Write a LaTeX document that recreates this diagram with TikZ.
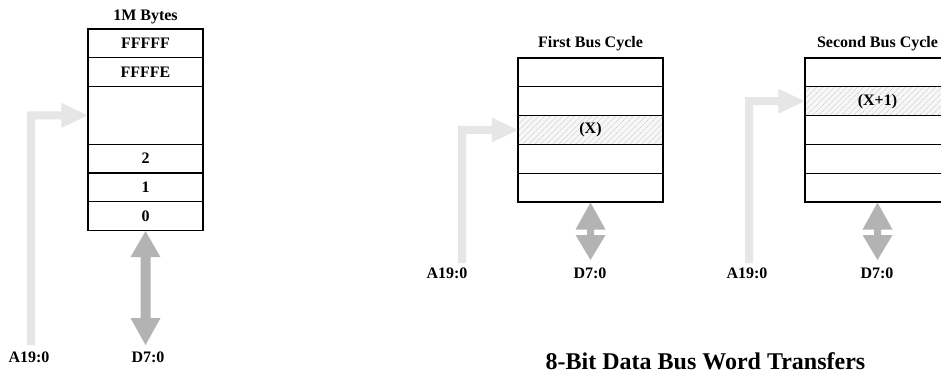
\documentclass[tikz,border=0pt]{standalone}
\usepackage{fontspec}
\setmainfont{Liberation Serif}
\usetikzlibrary{calc,patterns.meta}
\definecolor{addrgray}{HTML}{E6E6E6}
\definecolor{datagray}{HTML}{B3B3B3}
\newcommand\AddrArrow[3]{% #1 tip coordinate, #2 shaft centre x, #3 bottom y
  \fill[addrgray] let \p1=(#1) in
    (#2pt-4pt,-#3pt) -- (#2pt-4pt,\y1+4pt) -- (\x1-26pt,\y1+4pt) -- (\x1-26pt,\y1+12.5pt)
    -- (\p1) -- (\x1-26pt,\y1-12.5pt) -- (\x1-26pt,\y1-4pt) -- (#2pt+4pt,\y1-4pt)
    -- (#2pt+4pt,-#3pt) -- cycle;}
\newcommand\DataArrow[5]{% #1 top tip, #2 bottom tip y, #3 top head, #4 bottom head, #5 shaft half width
  \fill[datagray] let \p1=(#1) in
    (\p1) -- (\x1+15pt,\y1-#3pt) -- (\x1+#5pt,\y1-#3pt) -- (\x1+#5pt,-#2pt+#4pt)
    -- (\x1+15pt,-#2pt+#4pt) -- (\x1,-#2pt) -- (\x1-15pt,-#2pt+#4pt) -- (\x1-#5pt,-#2pt+#4pt)
    -- (\x1-#5pt,\y1-#3pt) -- (\x1-15pt,\y1-#3pt) -- cycle;}
\begin{document}
\begin{tikzpicture}[x=1pt,y=-1pt,
  txt/.style={font=\fontsize{16}{19}\selectfont\bfseries, inner sep=0pt},
  cell/.style={draw, line width=1.1pt, minimum width=#1, minimum height=28.8pt, inner sep=0pt,
    font=\fontsize{16}{19}\selectfont\bfseries},
  tallcell/.style={cell=#1, minimum height=57.6pt},
  hatched/.style={preaction={fill=gray!6}, pattern={Lines[angle=45,distance=4pt,line width=0.5pt]}, pattern color=gray!45},
  bigtitle/.style={font=\fontsize{24}{28}\selectfont\bfseries, inner sep=0pt}]
\useasboundingbox (0,0) rectangle (941,374);
\clip (0,0) rectangle (941,374);
\fill[white] (0,0) rectangle (941,374);

% ---------- left: 1M bytes ----------
\node[txt] (t1) at (145.5,17) {1M Bytes};
\node[cell=115pt] (l1) at (145.5,43.4) {FFFFF};
\node[cell=115pt] (l2) at (145.5,72.2) {FFFFE};
\node[tallcell=115pt] (l3) at (145.5,115.4) {};
\node[cell=115pt] (l4) at (145.5,158.6) {2};
\node[cell=115pt] (l5) at (145.5,187.4) {1};
\node[cell=115pt] (l6) at (145.5,216.2) {0};
\AddrArrow{l3.west}{31}{345}
\DataArrow{l6.south}{345}{26}{27}{5}
\node[txt] (la) at (29,357) {A19:0};
\node[txt] (ld) at (148,357) {D7:0};

% ---------- middle: first bus cycle ----------
\node[txt] (t2) at (590.5,44) {First Bus Cycle};
\node[cell=145pt] (m1) at (590.5,72.4) {};
\node[cell=145pt] (m2) at (590.5,101.2) {};
\node[cell=145pt, hatched] (m3) at (590.5,130) {(X)};
\node[cell=145pt] (m4) at (590.5,158.8) {};
\node[cell=145pt] (m5) at (590.5,187.6) {};
\AddrArrow{m3.west}{462}{263}
\DataArrow{m5.south}{260}{27}{25}{3.5}
\node[txt] (ma) at (447,273) {A19:0};
\node[txt] (md) at (590,273) {D7:0};

% ---------- right: second bus cycle ----------
\node[txt] (t3) at (877.5,44) {Second Bus Cycle};
\node[cell=145pt] (r1) at (877.5,72.4) {};
\node[cell=145pt, hatched] (r2) at (877.5,101.2) {(X+1)};
\node[cell=145pt] (r3) at (877.5,130) {};
\node[cell=145pt] (r4) at (877.5,158.8) {};
\node[cell=145pt] (r5) at (877.5,187.6) {};
\AddrArrow{r2.west}{749}{263}
\DataArrow{r5.south}{260}{27}{25}{3.5}
\node[txt] (ra) at (747,273) {A19:0};
\node[txt] (rd) at (877,273) {D7:0};

% ---------- caption ----------
\node[bigtitle] (cap) at (705.5,361) {8-Bit Data Bus Word Transfers};
\end{tikzpicture}
\end{document}
